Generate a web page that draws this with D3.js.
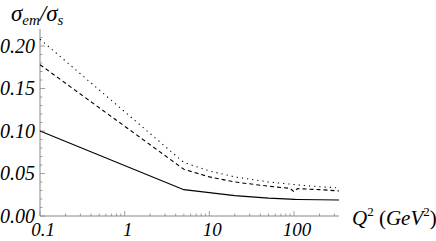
<!DOCTYPE html>
<html>
<head>
<meta charset="utf-8">
<script src="https://cdn.jsdelivr.net/npm/d3@7"></script>
<style>
  body { margin: 0; background: #fff; }
</style>
</head>
<body>
<script>
// Q^2 sample points (GeV^2)
var q2 = [0.1, 5, 10, 20, 50, 90, 100, 110, 200, 340];
// sigma_em / sigma_s for the three curves
var solid  = [0.100, 0.031, 0.0275, 0.024, 0.021, 0.0198, 0.0196, 0.0195, 0.0191, 0.0188];
var dashed = [0.178, 0.055, 0.046, 0.040, 0.035, 0.0325, 0.0285, 0.0322, 0.031, 0.0295];
var dotted = [0.208, 0.063, 0.053, 0.046, 0.040, 0.0375, 0.0370, 0.0365, 0.0345, 0.0330];

var yTicks = [0, 0.05, 0.10, 0.15, 0.20];
var xTicks = [0.1, 1, 10, 100];

var font = "'Liberation Serif', 'Times New Roman', Times, 'DejaVu Serif', serif";

var svg = d3.select("body").append("svg").attr("width", 436).attr("height", 241)
  .attr("font-family", font).attr("font-style", "italic");

var x = d3.scaleLog().domain([0.1, 340]).range([40, 339]);
var y = d3.scaleLinear().domain([0, 0.22]).range([216, 29]);

var axisColor = "#888";

// y axis
svg.append("line").attr("x1", 40).attr("x2", 40).attr("y1", y(0)).attr("y2", y(0.22))
  .attr("stroke", axisColor).attr("stroke-width", 1);
d3.range(0, 22).forEach(function (i) {
  var v = i / 100;
  var major = i % 5 === 0;
  svg.append("line").attr("x1", 40).attr("x2", 40 + (major ? 5 : 2.5))
    .attr("y1", y(v)).attr("y2", y(v))
    .attr("stroke", axisColor).attr("stroke-width", 0.8);
});
svg.selectAll(".ylab").data(yTicks).enter().append("text")
  .attr("x", 35).attr("y", function (d) { return y(d) + 6.5; })
  .attr("text-anchor", "end").attr("font-size", 20).attr("fill", "#000")
  .text(function (d) { return d3.format(".2f")(d); });

// x axis
svg.append("line").attr("x1", 40).attr("x2", 339).attr("y1", 216).attr("y2", 216)
  .attr("stroke", axisColor).attr("stroke-width", 1);
var minor = [];
[0.1, 1, 10, 100].forEach(function (d) {
  for (var k = 2; k <= 9; k++) { if (d * k <= 340) minor.push(d * k); }
});
minor.forEach(function (v) {
  svg.append("line").attr("x1", x(v)).attr("x2", x(v)).attr("y1", 216).attr("y2", 213.5)
    .attr("stroke", axisColor).attr("stroke-width", 0.8);
});
xTicks.forEach(function (v) {
  svg.append("line").attr("x1", x(v)).attr("x2", x(v)).attr("y1", 216).attr("y2", 211)
    .attr("stroke", axisColor).attr("stroke-width", 0.8);
});
svg.selectAll(".xlab").data(xTicks).enter().append("text")
  .attr("x", function (d) { return x(d) + 3; }).attr("y", 236)
  .attr("text-anchor", "middle").attr("font-size", 19).attr("fill", "#000")
  .text(function (d) { return d; });

// curves
var pts = function (vals) { return q2.map(function (q, i) { return [q, vals[i]]; }); };
var line = d3.line().x(function (d) { return x(d[0]); }).y(function (d) { return y(d[1]); });

svg.append("path").attr("d", line(pts(solid))).attr("fill", "none")
  .attr("stroke", "#000").attr("stroke-width", 1.1);
svg.append("path").attr("d", line(pts(dashed))).attr("fill", "none")
  .attr("stroke", "#000").attr("stroke-width", 1.1).attr("stroke-dasharray", "4,3");
svg.append("path").attr("d", line(pts(dotted))).attr("fill", "none")
  .attr("stroke", "#000").attr("stroke-width", 1.1).attr("stroke-dasharray", "1.2,4");

// axis labels
var yl = svg.append("text").attr("x", 11).attr("y", 21).attr("font-size", 23).attr("fill", "#000");
yl.append("tspan").text("σ");
yl.append("tspan").attr("font-size", 15).attr("dy", 4).text("em");
yl.append("tspan").attr("dy", -4).text("/");
yl.append("tspan").text("σ");
yl.append("tspan").attr("font-size", 15).attr("dy", 4).text("s");

var xl = svg.append("text").attr("x", 352).attr("y", 225).attr("font-size", 21).attr("fill", "#000");
xl.append("tspan").text("Q");
xl.append("tspan").attr("font-size", 13).attr("dy", -9).attr("font-style", "normal").text("2");
xl.append("tspan").attr("dy", 9).attr("font-style", "normal").text(" (");
xl.append("tspan").text("GeV");
xl.append("tspan").attr("font-size", 13).attr("dy", -9).attr("font-style", "normal").text("2");
xl.append("tspan").attr("dy", 9).attr("font-style", "normal").text(")");
</script>
</body>
</html>
